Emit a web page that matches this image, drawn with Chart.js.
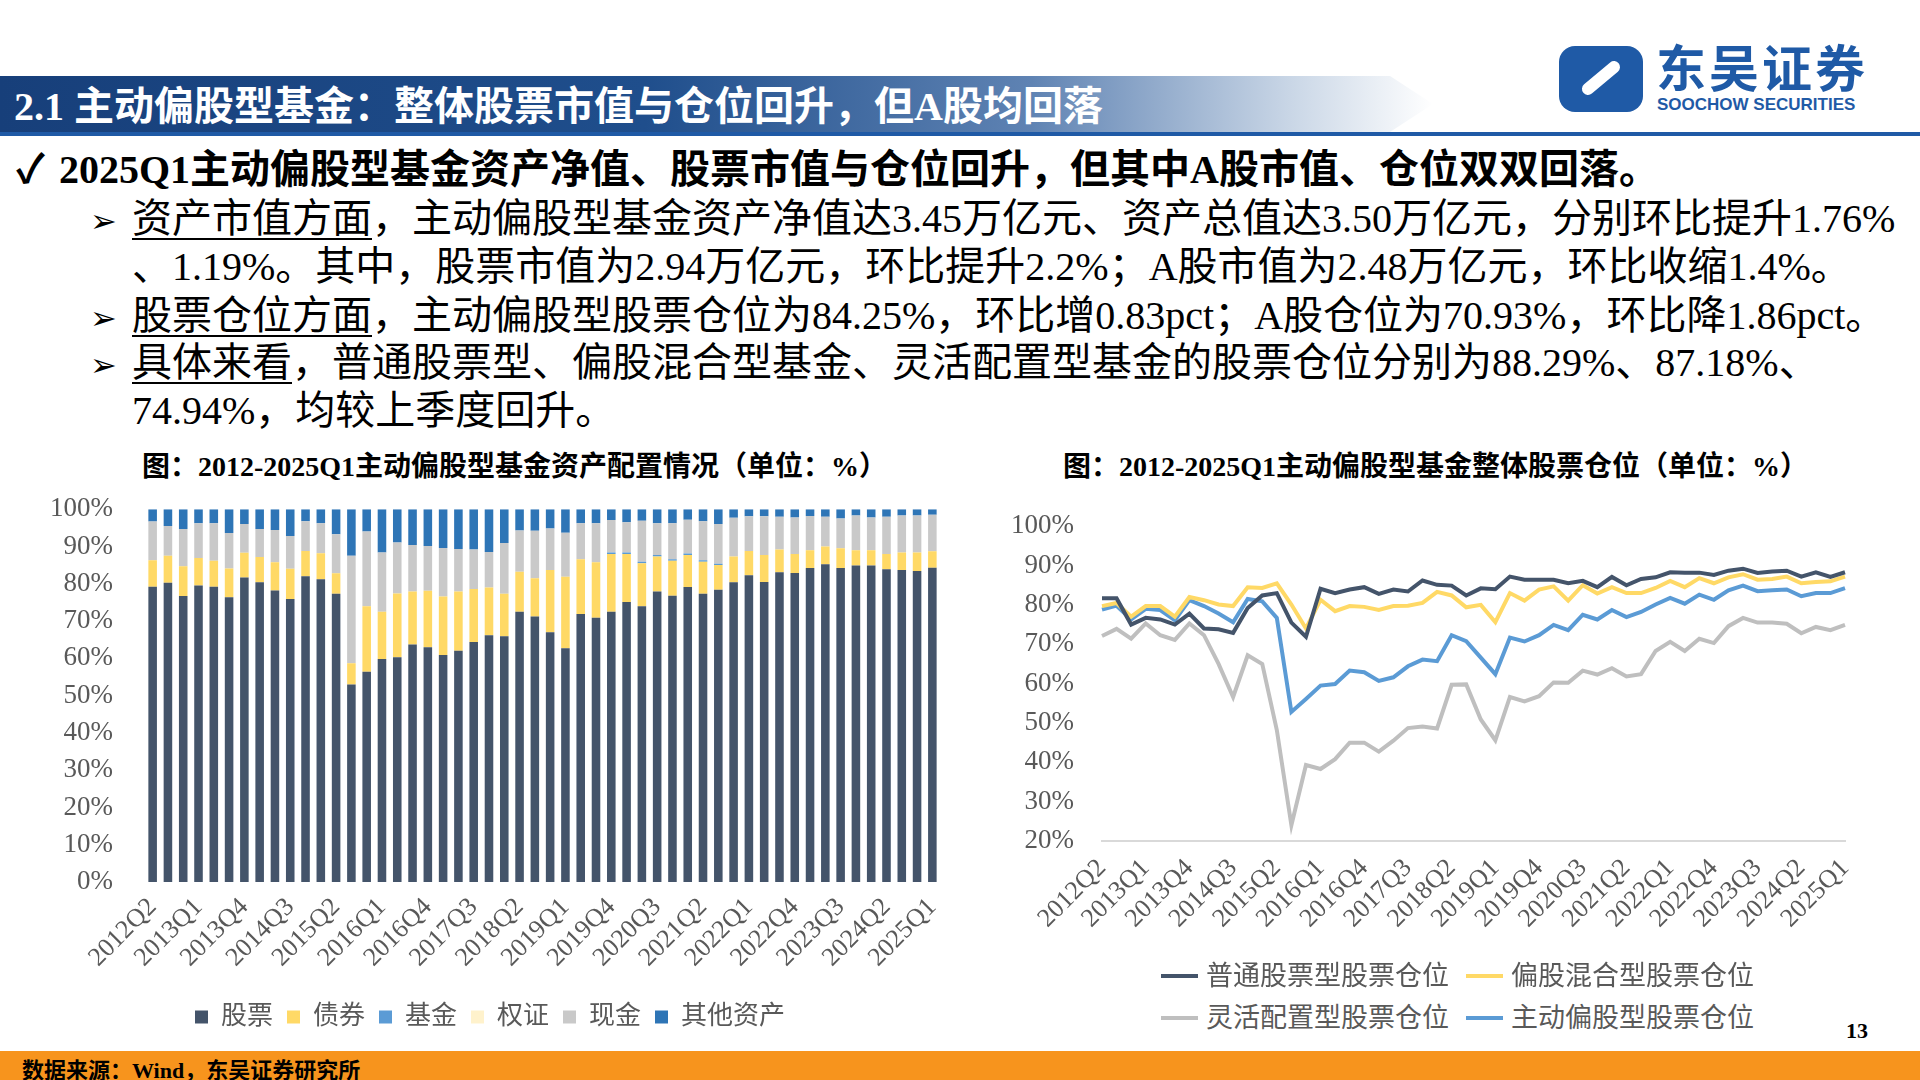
<!DOCTYPE html>
<html><head><meta charset="utf-8">
<script src="https://cdn.jsdelivr.net/npm/chart.js@4"></script>
<style>
html,body{margin:0;padding:0;background:#fff;width:1920px;height:1080px;overflow:hidden;font-family:"Liberation Serif","Noto Sans CJK SC",serif;}
.abs{position:absolute;white-space:nowrap;}
#band{left:0;top:76px;width:1433px;height:56px;background:linear-gradient(90deg,#173f7a 0%,#1f4e8c 45%,#5f83b3 72%,#c9d6e6 90%,#ffffff 100%);clip-path:polygon(0 0,97% 0,100% 50%,97% 100%,0 100%);}
#title{left:14px;top:83px;font-size:40px;line-height:48px;font-weight:bold;color:#fff;}
#rule{left:0;top:132px;width:1920px;height:4px;background:#1f5aa6;}
.t{font-size:40px;line-height:46px;color:#000;}
.ar{display:inline-block;width:42px;font-size:32px;}
.u{text-decoration:underline;text-decoration-thickness:2px;text-underline-offset:6px;}
.ct{font-size:28px;font-weight:bold;color:#000;}
#foot{left:0;top:1051px;width:1920px;height:29px;background:#f7941d;}
#foottxt{left:22px;top:1052px;font-size:22px;font-weight:bold;color:#000;}
.lg{font-size:27px;color:#595959;line-height:32px;}
.lgl{position:absolute;height:4px;width:37px;}
</style></head><body>
<div class="abs" id="band"></div>
<div class="abs" id="title">2.1 主动偏股型基金：整体股票市值与仓位回升，但A股均回落</div>
<div class="abs" id="rule"></div>
<div class="abs" style="left:1559px;top:46px;width:84px;height:66px;background:#1f5aa6;border-radius:16px;"></div>
<div class="abs" style="left:1578px;top:72px;width:46px;height:12px;background:#fff;transform:rotate(-40deg);border-radius:6px;"></div>
<div class="abs" style="left:1656px;top:40px;font-size:50px;line-height:50px;font-weight:bold;color:#1f5aa6;font-family:'Noto Sans CJK SC';letter-spacing:3px;">东吴证券</div>
<div class="abs" style="left:1657px;top:95px;font-size:17px;line-height:20px;font-weight:bold;color:#1f5aa6;font-family:'Liberation Sans';">SOOCHOW SECURITIES</div>

<div class="abs t" style="left:16px;top:147px;font-weight:bold;"><span style="display:inline-block;width:43px;">✓</span>2025Q1主动偏股型基金资产净值、股票市值与仓位回升，但其中A股市值、仓位双双回落。</div>
<div class="abs t" style="left:90px;top:196px;"><span class="ar">➢</span><span class="u">资产市值方面</span>，主动偏股型基金资产净值达3.45万亿元、资产总值达3.50万亿元，分别环比提升1.76%</div>
<div class="abs t" style="left:132px;top:244px;">、1.19%。其中，股票市值为2.94万亿元，环比提升2.2%；A股市值为2.48万亿元，环比收缩1.4%。</div>
<div class="abs t" style="left:90px;top:293px;"><span class="ar">➢</span><span class="u">股票仓位方面</span>，主动偏股型股票仓位为84.25%，环比增0.83pct；A股仓位为70.93%，环比降1.86pct。</div>
<div class="abs t" style="left:90px;top:340px;"><span class="ar">➢</span><span class="u">具体来看</span>，普通股票型、偏股混合型基金、灵活配置型基金的股票仓位分别为88.29%、87.18%、</div>
<div class="abs t" style="left:132px;top:388px;">74.94%，均较上季度回升。</div>

<div class="abs ct" style="left:142px;top:444px;">图：2012-2025Q1主动偏股型基金资产配置情况（单位：%）</div>
<div class="abs ct" style="left:1063px;top:444px;">图：2012-2025Q1主动偏股型基金整体股票仓位（单位：%）</div>

<div class="abs" style="left:40px;top:469px;width:920px;height:581px;"><canvas id="c1"></canvas></div>
<div class="abs" style="left:1000px;top:490px;width:885px;height:475px;"><canvas id="c2"></canvas></div>

<div class="abs lg" style="left:1161px;top:960px;"><span class="lgl" style="left:0;top:14px;background:#44546a;"></span><span style="position:absolute;left:45px;">普通股票型股票仓位</span></div>
<div class="abs lg" style="left:1466px;top:960px;"><span class="lgl" style="left:0;top:14px;background:#ffd966;"></span><span style="position:absolute;left:45px;">偏股混合型股票仓位</span></div>
<div class="abs lg" style="left:1161px;top:1002px;"><span class="lgl" style="left:0;top:14px;background:#bfbfbf;"></span><span style="position:absolute;left:45px;">灵活配置型股票仓位</span></div>
<div class="abs lg" style="left:1466px;top:1002px;"><span class="lgl" style="left:0;top:14px;background:#5b9bd5;"></span><span style="position:absolute;left:45px;">主动偏股型股票仓位</span></div>

<div class="abs" style="left:1846px;top:1018px;font-size:22px;font-weight:bold;">13</div>
<div class="abs" id="foot"></div>
<div class="abs" id="foottxt">数据来源：Wind，东吴证券研究所</div>

<script>
const quarters = ["2012Q2","2012Q3","2012Q4","2013Q1","2013Q2","2013Q3","2013Q4","2014Q1","2014Q2","2014Q3","2014Q4","2015Q1","2015Q2","2015Q3","2015Q4","2016Q1","2016Q2","2016Q3","2016Q4","2017Q1","2017Q2","2017Q3","2017Q4","2018Q1","2018Q2","2018Q3","2018Q4","2019Q1","2019Q2","2019Q3","2019Q4","2020Q1","2020Q2","2020Q3","2020Q4","2021Q1","2021Q2","2021Q3","2021Q4","2022Q1","2022Q2","2022Q3","2022Q4","2023Q1","2023Q2","2023Q3","2023Q4","2024Q1","2024Q2","2024Q3","2024Q4","2025Q1"];
const yTicks = [0,10,20,30,40,50,60,70,80,90,100];

// asset allocation (%)
const stock = [79.2,80.3,76.7,79.5,79.2,76.4,81.7,80.4,78.2,75.9,82.0,81.2,77.3,53.0,56.4,59.8,60.3,63.7,63.0,60.9,62.0,64.4,66.2,65.9,72.5,71.2,67.0,62.7,71.9,70.9,72.5,75.1,74.0,77.9,76.8,79.1,77.3,78.4,80.4,82.3,80.5,83.1,82.9,84.2,85.2,84.2,84.9,84.9,83.9,83.7,83.4,84.3];
const bond = [7.1,7.2,8.0,7.4,7.0,7.7,6.6,6.8,7.6,8.1,6.8,7.0,5.5,5.7,17.6,12.7,17.1,14.2,15.1,15.7,15.9,14.2,12.8,11.4,10.7,10.3,16.7,19.2,14.7,14.9,15.5,12.9,11.5,9.4,9.4,8.6,8.6,6.6,6.9,6.5,7.2,6.1,5.1,4.8,4.8,5.3,4.1,4.1,4.1,4.7,5.0,4.4];
const fund = [0,0,0,0,0,0,0,0,0,0,0,0,0,0,0,0,0,0,0,0,0,0,0,0,0,0,0,0,0,0,0.4,0.4,0.4,0.4,0.4,0.4,0.4,0.4,0,0,0,0,0,0,0,0,0,0,0,0,0,0];
const warrant = [0,0,0,0,0,0,0,0,0,0,0,0,0,0,0,0,0,0,0,0,0,0,0,0,0,0,0,0,0,0,0,0,0,0,0,0,0,0,0,0,0,0,0,0,0,0,0,0,0,0,0,0];
const cash = [10.4,8.0,10.0,9.3,10.0,9.5,7.7,7.5,8.6,8.8,8.0,8.0,10.5,28.8,20.0,15.9,13.7,12.5,12.0,13.0,11.4,10.6,9.5,13.6,11.1,12.7,11.1,11.8,9.6,10.4,8.7,8.1,11.0,8.5,9.6,9.1,10.5,10.6,10.4,9.3,10.4,8.8,9.8,9.2,8.0,8.0,9.3,8.8,10.0,9.9,9.9,9.8];
const other = [3.3,4.5,5.3,3.8,3.8,6.4,4.0,5.3,5.6,7.2,3.2,3.8,6.7,12.5,6.0,11.6,8.9,9.6,9.9,10.4,10.7,10.8,11.5,9.1,5.7,5.8,5.2,6.3,3.8,3.8,2.9,3.5,3.1,3.8,3.8,2.8,3.2,4.0,2.3,1.9,1.9,2.0,2.2,1.8,2.0,2.5,1.7,2.2,2.0,1.7,1.7,1.5];

// stock positions (%)
const ordinary = [81.7,81.7,75.0,76.7,76.3,75.0,77.8,74.0,73.8,72.9,79.2,82.4,83.0,75.5,71.9,84.1,83.0,83.9,84.5,82.8,83.9,83.4,86.2,85.1,84.9,82.4,84.2,84.0,87.2,86.4,86.4,86.4,85.5,86.1,84.5,87.1,85.0,86.6,87.0,88.3,88.2,88.2,87.6,88.7,89.2,88.1,88.5,88.7,87.2,88.3,87.1,88.29];
const hybrid = [79.7,80.5,77.0,79.7,79.7,77.0,82.0,81.2,80.1,79.7,84.5,84.3,85.5,80.1,74.0,81.3,78.4,79.7,79.5,78.7,79.7,79.8,80.5,83.3,82.4,79.4,80.0,75.6,83.0,81.1,83.9,84.7,81.1,85.0,82.9,84.5,83.0,83.0,84.3,86.1,84.5,86.8,85.5,87.0,87.8,86.4,86.6,87.2,85.5,85.8,86.0,87.18];
const flexible = [72.1,73.9,71.4,75.3,72.3,71.1,75.3,72.3,65.0,56.6,67.2,65.0,48.2,24.0,39.3,38.3,40.8,45.0,45.0,42.7,45.5,48.7,49.1,48.6,59.7,59.8,50.9,45.6,56.6,55.5,56.8,60.3,60.2,63.3,62.3,63.9,61.8,62.4,68.3,70.6,68.3,71.4,70.3,74.6,76.7,75.5,75.5,75.2,72.8,74.4,73.6,74.94];
const active = [78.8,79.8,76.3,79.0,78.7,76.1,81.2,79.7,77.8,75.6,81.5,80.9,76.7,52.8,56.1,59.5,59.9,63.3,62.9,60.7,61.6,64.4,66.1,65.7,72.3,70.8,66.6,62.4,71.7,70.7,72.3,74.9,73.6,77.5,76.3,78.7,76.9,78.2,80.1,81.8,80.3,82.6,81.3,83.7,84.9,83.5,83.7,83.9,82.2,83.0,83.0,84.25];

const serif = '"Liberation Serif","Noto Sans CJK SC"';
const tickFont = {family: serif, size: 27};
const xFont = {family: serif, size: 26};
const xTickCb = function(v, i){ return i % 3 === 0 ? quarters[i] : ''; };

new Chart(document.getElementById('c1'), {
  type: 'bar',
  data: { labels: quarters, datasets: [
    {label:'股票', data: stock, backgroundColor:'#44546a'},
    {label:'债券', data: bond, backgroundColor:'#ffd966'},
    {label:'基金', data: fund, backgroundColor:'#5b9bd5'},
    {label:'权证', data: warrant, backgroundColor:'#fff2cc'},
    {label:'现金', data: cash, backgroundColor:'#c9c9c9'},
    {label:'其他资产', data: other, backgroundColor:'#2e75b6'}
  ].map(d => Object.assign(d, {barPercentage:0.56, categoryPercentage:1, borderWidth:0}))},
  options: {
    responsive:true, maintainAspectRatio:false, animation:false,
    layout:{padding:{top:12,right:20,bottom:10,left:0}},
    plugins:{ tooltip:{enabled:false},
      legend:{position:'bottom', labels:{font:{family:serif,size:26}, color:'#595959', boxWidth:13, boxHeight:13, padding:14}}},
    scales:{
      x:{stacked:true, grid:{display:false}, border:{display:false},
         ticks:{autoSkip:false, minRotation:45, maxRotation:45, font:xFont, color:'#595959', callback:xTickCb, padding:2},
         afterFit:s=>{s.height=108;}},
      y:{stacked:true, min:0, max:100, grid:{display:false}, border:{display:false},
         afterBuildTicks:s=>{s.ticks=yTicks.map(v=>({value:v}));},
         ticks:{font:tickFont, color:'#595959', padding:24, callback:v=>v+'%'},
         afterFit:s=>{s.width=105;}}
    }
  }
});

const lineDs = (label, data, color) => ({label, data, borderColor:color, backgroundColor:color, borderWidth:4, pointRadius:0, tension:0, fill:false});
new Chart(document.getElementById('c2'), {
  type: 'line',
  data: { labels: quarters, datasets: [
    lineDs('普通股票型股票仓位', ordinary, '#44546a'),
    lineDs('偏股混合型股票仓位', hybrid, '#ffd966'),
    lineDs('灵活配置型股票仓位', flexible, '#bfbfbf'),
    lineDs('主动偏股型股票仓位', active, '#5b9bd5')
  ]},
  options: {
    responsive:true, maintainAspectRatio:false, animation:false,
    layout:{padding:{top:18,right:40,bottom:6,left:0}},
    plugins:{ tooltip:{enabled:false}, legend:{display:false}},
    scales:{
      x:{grid:{display:false}, border:{display:true, color:'#d9d9d9', width:2},
         ticks:{autoSkip:false, minRotation:45, maxRotation:45, font:xFont, color:'#595959', callback:xTickCb, padding:4},
         afterFit:s=>{s.height=118;}},
      y:{min:20, max:100, grid:{display:false}, border:{display:false},
         ticks:{stepSize:10, autoSkip:false, font:tickFont, color:'#595959', padding:20, callback:v=>v+'%'},
         afterFit:s=>{s.width=102;}}
    }
  }
});
</script>
</body></html>
